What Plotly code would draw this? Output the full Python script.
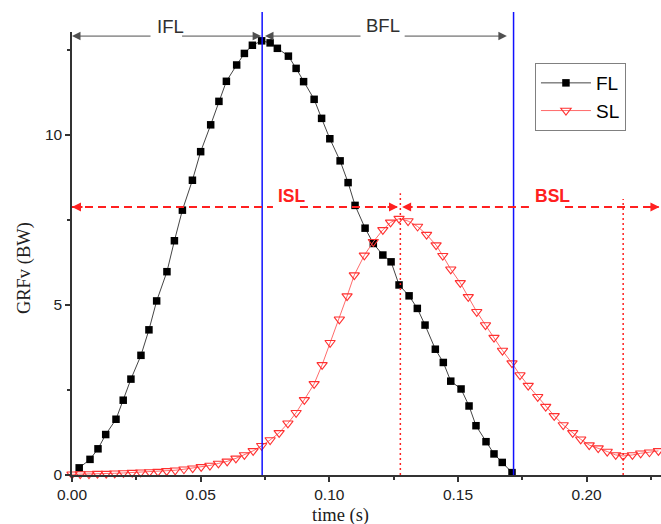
import plotly.graph_objects as go

# ---------------- data ----------------
fl_time = [0.0028, 0.0070, 0.0101, 0.0131, 0.0171, 0.0199, 0.0229, 0.0268, 0.0299, 0.0329,
           0.0369, 0.0398, 0.0429, 0.0468, 0.0500, 0.0539, 0.0571, 0.0600, 0.0640, 0.0670,
           0.0701, 0.0737, 0.0770, 0.0798, 0.0841, 0.0871, 0.0900, 0.0941, 0.0970, 0.1002,
           0.1042, 0.1073, 0.1100, 0.1139, 0.1171, 0.1208, 0.1240, 0.1271, 0.1310, 0.1342,
           0.1372, 0.1412, 0.1443, 0.1472, 0.1512, 0.1543, 0.1570, 0.1609, 0.1640, 0.1672,
           0.1710]
fl_grf = [0.21, 0.46, 0.77, 1.19, 1.64, 2.20, 2.82, 3.52, 4.27, 5.12,
          5.98, 6.89, 7.79, 8.67, 9.51, 10.30, 10.99, 11.58, 12.06, 12.40,
          12.64, 12.77, 12.71, 12.55, 12.32, 11.96, 11.57, 11.05, 10.49, 9.89,
          9.24, 8.60, 7.93, 7.26, 6.81, 6.47, 6.27, 5.59, 5.27, 4.90,
          4.41, 3.70, 3.31, 2.76, 2.53, 2.03, 1.45, 0.98, 0.62, 0.37,
          0.07]

sl_time = [0.0000, 0.0032, 0.0066, 0.0099, 0.0133, 0.0166, 0.0200, 0.0234, 0.0267, 0.0301,
           0.0334, 0.0368, 0.0401, 0.0435, 0.0469, 0.0502, 0.0536, 0.0569, 0.0603, 0.0637,
           0.0670, 0.0704, 0.0737,
           0.0770, 0.0805, 0.0839, 0.0871, 0.0903, 0.0941, 0.0972, 0.1003, 0.1039, 0.1069,
           0.1097, 0.1136, 0.1171, 0.1208, 0.1238, 0.1271,
           0.1306, 0.1343, 0.1378, 0.1415, 0.1441, 0.1472, 0.1509, 0.1540, 0.1573, 0.1607,
           0.1640, 0.1673, 0.1710, 0.1741, 0.1773, 0.1810, 0.1841, 0.1874, 0.1909, 0.1946,
           0.1977, 0.2010, 0.2045, 0.2080, 0.2113, 0.2142, 0.2178, 0.2210, 0.2244, 0.2279]
sl_grf = [0.02, 0.03, 0.03, 0.04, 0.04, 0.05, 0.06, 0.07, 0.08, 0.09,
          0.10, 0.12, 0.14, 0.17, 0.20, 0.24, 0.28, 0.34, 0.40, 0.49,
          0.59, 0.71, 0.86,
          1.03, 1.24, 1.52, 1.83, 2.21, 2.68, 3.24, 3.89, 4.58, 5.26,
          5.88, 6.46, 6.86, 7.21, 7.43, 7.54,
          7.47, 7.31, 7.07, 6.76, 6.45, 6.05, 5.65, 5.24, 4.80, 4.41,
          4.04, 3.66, 3.29, 2.94, 2.63, 2.30, 2.01, 1.74, 1.47, 1.24,
          1.05, 0.88, 0.79, 0.69, 0.59, 0.56, 0.59, 0.64, 0.67, 0.71]

x_ticks = [0.00, 0.05, 0.10, 0.15, 0.20]
x_tick_labels = ["0.00", "0.05", "0.10", "0.15", "0.20"]
y_ticks = [0, 5, 10]
y_tick_labels = ["0", "5", "10"]

x_title = "time (s)"
y_title = "GRFv (BW)"

# phase markers
fl_phase_lines = [0.0739, 0.1716]          # blue: end of IFL, end of BFL
sl_phase_lines = [0.1276, 0.2142]          # red dotted: SL peak, SL minimum
sl_phase_tops = [8.29, 8.12]
fl_arrow_level = 12.91
sl_arrow_level = 7.88

x_range = [0, 0.2289]
y_range = [0, 13.03]

# ---------------- figure ----------------
fig = go.Figure()
fig.add_trace(go.Scatter(
    x=fl_time, y=fl_grf, name="FL", mode="lines+markers",
    line=dict(color="#454545", width=1),
    marker=dict(symbol="square", size=7.5, color="black"),
    cliponaxis=False))
fig.add_trace(go.Scatter(
    x=sl_time, y=sl_grf, name="SL", mode="lines+markers",
    line=dict(color="#ff6b6b", width=1),
    marker=dict(symbol="triangle-down-open", size=9, color="#ff3030",
                line=dict(width=1.1, color="#ff3030")),
    cliponaxis=False))

shapes = []
for t in fl_phase_lines:
    shapes.append(dict(type="line", xref="x", yref="paper", x0=t, x1=t, y0=0, y1=1.045,
                       line=dict(color="#1010ff", width=1.5)))
for t, top in zip(sl_phase_lines, sl_phase_tops):
    shapes.append(dict(type="line", xref="x", yref="y", x0=t, x1=t, y0=0, y1=top,
                       line=dict(color="#ff2020", width=1.5, dash="2px,3px")))
# red dashed ISL / BSL lines (gaps under labels)
for a, b in [(0.0, 0.0781), (0.0886, 0.1262), (0.1290, 0.1792), (0.1916, 0.2280)]:
    shapes.append(dict(type="line", xref="x", yref="y", x0=a, x1=b,
                       y0=sl_arrow_level, y1=sl_arrow_level,
                       line=dict(color="#ff2020", width=2, dash="8px,5px")))

annotations = []
# grey IFL / BFL arrows: (tip, tail)
for tip, tail in [(0.0, 0.0311), (0.0735, 0.0422), (0.0750, 0.1127), (0.1690, 0.1287)]:
    annotations.append(dict(x=tip, y=fl_arrow_level, ax=tail, ay=fl_arrow_level,
                            xref="x", yref="y", axref="x", ayref="y", text="",
                            showarrow=True, arrowhead=2, arrowsize=1.7, arrowwidth=1,
                            arrowcolor="#505050"))
# red arrowheads
for tip, off in [(0.0, 12), (0.1267, -12), (0.1283, 12), (0.2283, -12)]:
    annotations.append(dict(x=tip, y=sl_arrow_level, ax=off, ay=0,
                            xref="x", yref="y", text="",
                            showarrow=True, arrowhead=2, arrowsize=0.9, arrowwidth=2,
                            arrowcolor="#ff2020"))
for txt, xp, yp in [("IFL", 0.1664, 1.0135), ("BFL", 0.528, 1.0158)]:
    annotations.append(dict(x=xp, y=yp, xref="paper", yref="paper", text=txt,
                            showarrow=False, xanchor="center", yanchor="middle",
                            font=dict(family="Liberation Sans", size=18.5, color="#303030")))
for txt, xp, yp in [("ISL", 0.3735, 0.630), ("BSL", 0.815, 0.630)]:
    annotations.append(dict(x=xp, y=yp, xref="paper", yref="paper", text="<b>" + txt + "</b>",
                            showarrow=False, xanchor="center", yanchor="middle",
                            font=dict(family="Liberation Sans", size=17.5, color="#ff2020")))
# axis titles
annotations.append(dict(x=0.4567, y=-0.0903, xref="paper", yref="paper", text=x_title,
                        showarrow=False, xanchor="center", yanchor="middle",
                        font=dict(family="Liberation Serif", size=18.5, color="#202020")))
annotations.append(dict(x=-0.0815, y=0.467, xref="paper", yref="paper", text=y_title,
                        showarrow=False, xanchor="center", yanchor="middle", textangle=-90,
                        font=dict(family="Liberation Serif", size=18.5, color="#202020")))

axis_common = dict(showline=True, linecolor="#333333", linewidth=1.5, mirror=False,
                   ticks="outside", ticklen=5, tickwidth=1.5, tickcolor="#333333",
                   showgrid=False, zeroline=False,
                   tickfont=dict(family="Liberation Sans", size=15.5, color="#222222"))

fig.update_layout(
    width=661, height=524,
    margin=dict(l=72, r=0, t=32, b=49),
    plot_bgcolor="white", paper_bgcolor="white",
    shapes=shapes, annotations=annotations,
    showlegend=True,
    legend=dict(x=0.786, y=0.930, xanchor="left", yanchor="top",
                bordercolor="#808080", borderwidth=1, bgcolor="white",
                font=dict(family="Liberation Sans", size=19, color="black"),
                itemwidth=50, tracegroupgap=0),
    xaxis=dict(range=x_range, tickmode="array", tickvals=x_ticks, ticktext=x_tick_labels,
               minor=dict(tick0=0, dtick=0.025, ticks="outside", ticklen=3, tickcolor="#333333"),
               **axis_common),
    yaxis=dict(range=y_range, tickmode="array", tickvals=y_ticks, ticktext=y_tick_labels,
               minor=dict(tick0=0, dtick=2.5, ticks="outside", ticklen=3, tickcolor="#333333"),
               **axis_common),
)

fig.write_html("out.html")
